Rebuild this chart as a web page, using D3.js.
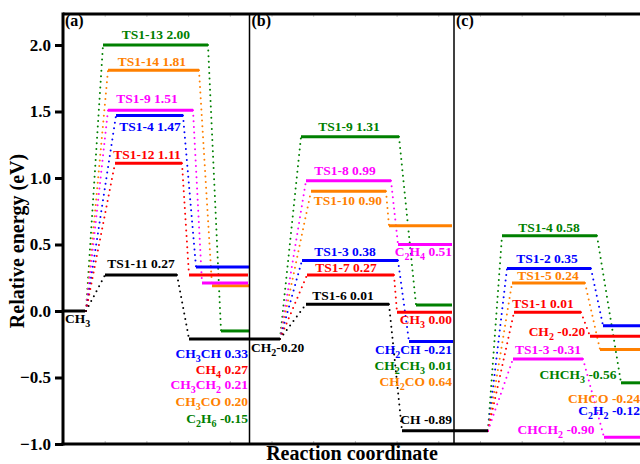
<!DOCTYPE html>
<html>
<head>
<meta charset="utf-8">
<script src="https://cdn.jsdelivr.net/npm/d3@7"></script>
<style>
  body { margin: 0; background: #fff; }
  text { font-family: "Liberation Serif", "Times New Roman", serif; font-weight: bold; }
</style>
</head>
<body>
<svg width="640" height="464"></svg>
<script>
// energy levels (x = reaction coordinate, e = eV)
const yTicks = [-1.0, -0.5, 0.0, 0.5, 1.0, 1.5, 2.0];
const panelNames = ['(a)', '(b)', '(c)'];
const panelStarts = [0.0, 1.865, 3.91];      // where each panel begins
const initLevel = [0, 0.22, 0.00];           // CH3 in panel (a)
const pathOrigins = [[0.23, 0.00], [2.17, -0.21], [4.25, -0.90]];

// [colour, ts x0, ts x1, ts e, fin x0, fin x1, fin e]
const pathsA = [
  ['green',   0.40, 1.45, 2.00, 1.58, 1.87, -0.15],
  ['orange',  0.45, 1.36, 1.81, 1.49, 1.87, 0.19],
  ['magenta', 0.45, 1.30, 1.51, 1.39, 1.85, 0.21],
  ['blue',    0.53, 1.20, 1.47, 1.33, 1.87, 0.33],
  ['red',     0.52, 1.19, 1.11, 1.26, 1.85, 0.27],
  ['black',   0.42, 1.14, 0.27, 1.26, 2.17, -0.21]
];
const pathsB = [
  ['green',   2.38, 3.36, 1.31, 3.53, 3.89, 0.045],
  ['magenta', 2.43, 3.28, 0.98, 3.35, 3.89, 0.50],
  ['orange',  2.48, 3.23, 0.90, 3.26, 3.89, 0.64],
  ['blue',    2.39, 3.35, 0.38, 3.46, 3.90, -0.23],
  ['red',     2.44, 3.31, 0.27, 3.34, 3.89, -0.01],
  ['black',   2.43, 3.26, 0.05, 3.39, 4.25, -0.90]
];
const pathsC = [
  ['green',   4.39, 5.34, 0.565, 5.58, 5.77, -0.54],
  ['blue',    4.44, 5.28, 0.32, 5.40, 5.77, -0.11],
  ['orange',  4.49, 5.22, 0.21, 5.37, 5.77, -0.29],
  ['red',     4.51, 5.18, -0.01, 5.27, 5.77, -0.19],
  ['magenta', 4.50, 5.20, -0.36, 5.41, 5.77, -0.95]
];

// labels: text ("_n" = subscript), colour, x, e, anchor
const labels = [
  ['TS1-13 2.00', 'green', 0.93, 2.045, 'middle'],
  ['TS1-14 1.81', 'orange', 0.89, 1.842, 'middle'],
  ['TS1-9 1.51', 'magenta', 0.84, 1.564, 'middle'],
  ['TS1-4 1.47', 'blue', 0.87, 1.353, 'middle'],
  ['TS1-12 1.11', 'red', 0.84, 1.143, 'middle'],
  ['TS1-11 0.27', 'black', 0.78, 0.323, 'middle'],
  ['CH_3', 'black', 0.02, -0.09, 'start'],
  ['CH_3CH 0.33', 'blue', 1.85, -0.353, 'end'],
  ['CH_4 0.27', 'red', 1.85, -0.47, 'end'],
  ['CH_3CH_2 0.21', 'magenta', 1.85, -0.59, 'end'],
  ['CH_3CO 0.20', 'orange', 1.85, -0.718, 'end'],
  ['C_2H_6 -0.15', 'green', 1.85, -0.842, 'end'],

  ['TS1-9 1.31', 'green', 2.86, 1.353, 'middle'],
  ['TS1-8 0.99', 'magenta', 2.82, 1.023, 'middle'],
  ['TS1-10 0.90', 'orange', 2.85, 0.797, 'middle'],
  ['TS1-3 0.38', 'blue', 2.82, 0.414, 'middle'],
  ['TS1-7 0.27', 'red', 2.83, 0.293, 'middle'],
  ['TS1-6 0.01', 'black', 2.80, 0.083, 'middle'],
  ['CH_2-0.20', 'black', 1.88, -0.308, 'start'],
  ['C_2H_4 0.51', 'magenta', 3.89, 0.414, 'end'],
  ['CH_3 0.00', 'red', 3.89, -0.098, 'end'],
  ['CH_2CH -0.21', 'blue', 3.89, -0.323, 'end'],
  ['CH_2CH_3 0.01', 'green', 3.89, -0.444, 'end'],
  ['CH_2CO 0.64', 'orange', 3.89, -0.562, 'end'],
  ['CH -0.89', 'black', 3.89, -0.85, 'end'],

  ['TS1-4 0.58', 'green', 4.86, 0.594, 'middle'],
  ['TS1-2 0.35', 'blue', 4.84, 0.361, 'middle'],
  ['TS1-5 0.24', 'orange', 4.85, 0.233, 'middle'],
  ['TS1-1 0.01', 'red', 4.80, 0.023, 'middle'],
  ['CH_2 -0.20', 'red', 4.94, -0.188, 'middle'],
  ['TS1-3 -0.31', 'magenta', 4.85, -0.323, 'middle'],
  ['CHCH_3 -0.56', 'green', 5.15, -0.511, 'middle'],
  ['CHCO -0.24', 'orange', 5.77, -0.692, 'end'],
  ['C_2H_2 -0.12', 'blue', 5.77, -0.782, 'end'],
  ['CHCH_2 -0.90', 'magenta', 4.93, -0.925, 'middle']
];

const colors = { green: '#008000', orange: '#ff8000', magenta: '#ff00ff',
                 blue: '#0000ff', red: '#ff0000', black: '#000000' };

const svg = d3.select('svg');
const margin = { top: 14, right: 0, bottom: 20, left: 63 };
const width = +svg.attr('width');
const height = +svg.attr('height');
const innerWidth = width - margin.left - margin.right;
const innerHeight = height - margin.top - margin.bottom;

const x = d3.scaleLinear().domain([0, 5.77]).range([0, innerWidth]);
const y = d3.scaleLinear().domain([-1, 2.233]).range([innerHeight, 0]);

const g = svg.append('g').attr('transform', `translate(${margin.left},${margin.top})`);

// faint minor ticks along the bottom and top
const minor = d3.range(0, 5.77, 0.417);
g.append('g').attr('transform', `translate(0,${innerHeight})`)
  .call(d3.axisBottom(x).tickValues(minor).tickSize(-3).tickFormat(''))
  .call(a => a.select('.domain').remove())
  .call(a => a.selectAll('line').attr('stroke', '#bbb'));
g.append('g')
  .call(d3.axisTop(x).tickValues(minor).tickSize(-3).tickFormat(''))
  .call(a => a.select('.domain').remove())
  .call(a => a.selectAll('line').attr('stroke', '#ccc'));

// dotted connectors
const allPaths = [pathsA, pathsB, pathsC];
const conn = [];
allPaths.forEach((ps, i) => {
  const o = pathOrigins[i];
  ps.forEach(p => {
    conn.push({ c: p[0], x1: o[0], e1: o[1], x2: p[1], e2: p[3] });
    conn.push({ c: p[0], x1: p[2], e1: p[3], x2: p[4], e2: p[6] });
  });
});
g.selectAll('line.conn').data(conn).enter().append('line')
  .attr('class', 'conn')
  .attr('x1', d => x(d.x1)).attr('y1', d => y(d.e1))
  .attr('x2', d => x(d.x2)).attr('y2', d => y(d.e2))
  .attr('stroke', d => colors[d.c])
  .attr('stroke-width', 2)
  .attr('stroke-linecap', 'round')
  .attr('stroke-dasharray', '0,5.6');

// horizontal levels
const levels = [{ c: 'black', x0: initLevel[0], x1: initLevel[1], e: initLevel[2] }];
allPaths.forEach(ps => ps.forEach(p => {
  levels.push({ c: p[0], x0: p[1], x1: p[2], e: p[3] });
  levels.push({ c: p[0], x0: p[4], x1: p[5], e: p[6] });
}));
g.selectAll('line.level').data(levels).enter().append('line')
  .attr('class', 'level')
  .attr('x1', d => x(d.x0)).attr('x2', d => x(d.x1))
  .attr('y1', d => y(d.e)).attr('y2', d => y(d.e))
  .attr('stroke', d => colors[d.c])
  .attr('stroke-width', 3);

// text with subscripts
const addText = (sel, str) => {
  let down = false;
  str.split(/(_\d)/).forEach(part => {
    if (!part) return;
    if (part[0] === '_') {
      sel.append('tspan').attr('font-size', 10).attr('dy', down ? 0 : 4).text(part[1]);
      down = true;
    } else {
      sel.append('tspan').attr('dy', down ? -4 : 0).text(part);
      down = false;
    }
  });
};

g.selectAll('text.lab').data(labels).enter().append('text')
  .attr('class', 'lab')
  .attr('x', d => x(d[2])).attr('y', d => y(d[3]))
  .attr('text-anchor', d => d[4])
  .attr('font-size', 13.5)
  .attr('fill', d => colors[d[1]])
  .each(function (d) { addText(d3.select(this), d[0]); });

// panel names
g.selectAll('text.panel').data(panelNames).enter().append('text')
  .attr('class', 'panel')
  .attr('x', (d, i) => x(panelStarts[i]) + 2)
  .attr('y', 12)
  .attr('font-size', 16)
  .text(d => d);

// panel dividers
g.selectAll('line.div').data(panelStarts.slice(1)).enter().append('line')
  .attr('x1', d => x(d)).attr('x2', d => x(d))
  .attr('y1', 0).attr('y2', innerHeight)
  .attr('stroke', '#000').attr('stroke-width', 1.5);

// frame
g.append('line').attr('x1', 0).attr('x2', innerWidth).attr('y1', 0).attr('y2', 0)
  .attr('stroke', '#000').attr('stroke-width', 3);
g.append('line').attr('x1', -1.5).attr('x2', innerWidth).attr('y1', innerHeight).attr('y2', innerHeight)
  .attr('stroke', '#000').attr('stroke-width', 3);

// y axis
const yAxis = g.append('g')
  .call(d3.axisLeft(y).tickValues(yTicks).tickFormat(d3.format('.1f')).tickSize(8).tickPadding(4));
yAxis.select('.domain').attr('stroke-width', 3).attr('d', `M0,-1.5V${innerHeight + 1.5}`);
yAxis.selectAll('.tick line').attr('stroke-width', 3);
yAxis.selectAll('.tick text').attr('font-size', 17).attr('font-family', '"Liberation Serif", serif')
  .attr('font-weight', 'bold').attr('fill', '#000');

// axis titles
svg.append('text')
  .attr('x', 352).attr('y', 460)
  .attr('text-anchor', 'middle')
  .attr('font-size', 20)
  .text('Reaction coordinate');
svg.append('text')
  .attr('transform', 'translate(24,241) rotate(-90)')
  .attr('text-anchor', 'middle')
  .attr('font-size', 20)
  .text('Relative energy (eV)');
</script>
</body>
</html>
